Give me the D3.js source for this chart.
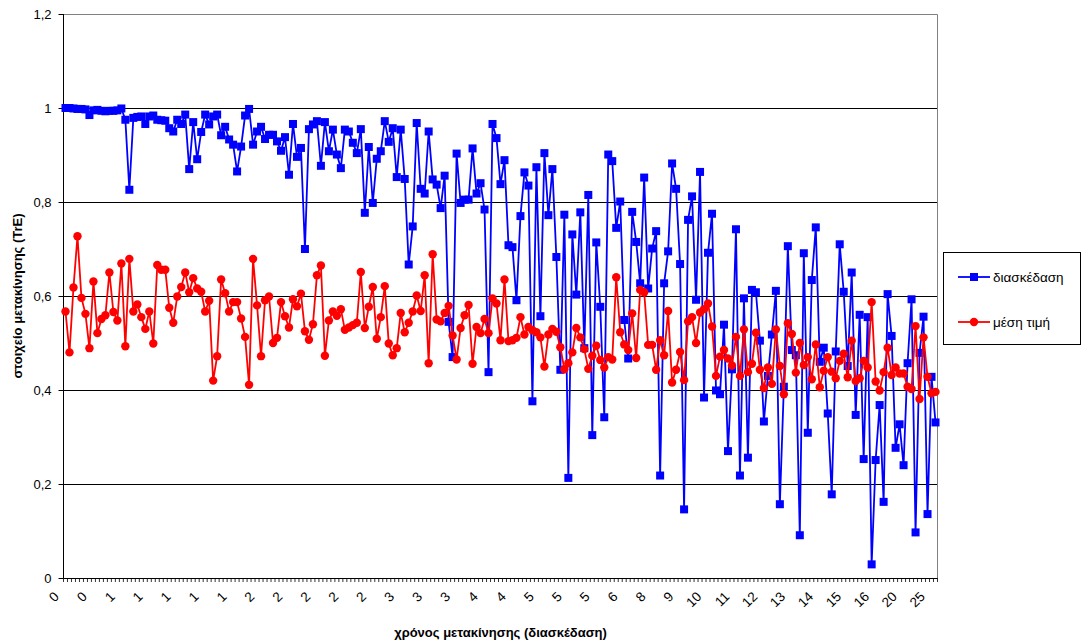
<!DOCTYPE html>
<html>
<head>
<meta charset="utf-8">
<script src="https://cdn.jsdelivr.net/npm/d3@7"></script>
<style>
  body { margin: 0; background: #ffffff; }
  svg text { font-family: "Liberation Sans", Arial, sans-serif; fill: #000; }
</style>
</head>
<body>
<svg id="chart"></svg>
<script>
// Series names as in the legend.
const seriesNames = ["διασκέδαση", "μέση τιμή"];

// Values, one per category (same order as the x axis).
const diaskedasi = [
  1.000, 1.000, 0.999, 0.998, 0.998, 0.997, 0.985, 0.995, 0.996, 0.994, 0.993, 0.994, 0.994, 0.995, 0.999,
  0.975, 0.826, 0.979, 0.981, 0.982, 0.966, 0.982, 0.984, 0.975, 0.974, 0.973, 0.957, 0.950, 0.975, 0.966,
  0.986, 0.870, 0.970, 0.891, 0.949, 0.986, 0.965, 0.982, 0.986, 0.942, 0.960, 0.933, 0.922, 0.865, 0.918,
  0.984, 0.998, 0.922, 0.950, 0.960, 0.934, 0.943, 0.943, 0.929, 0.909, 0.938, 0.858, 0.966, 0.896, 0.915, 0.700,
  0.955, 0.965, 0.972, 0.877, 0.970, 0.908, 0.954, 0.901, 0.872, 0.954, 0.950, 0.926, 0.904, 0.955, 0.777,
  0.917, 0.798, 0.892, 0.908, 0.972, 0.928, 0.957, 0.853, 0.954, 0.849, 0.667, 0.748, 0.968, 0.828, 0.818,
  0.950, 0.848, 0.837, 0.787, 0.856, 0.545, 0.470, 0.903, 0.798, 0.805, 0.805, 0.914, 0.818, 0.840, 0.784,
  0.438, 0.966, 0.936, 0.838, 0.889, 0.708, 0.704, 0.591, 0.770, 0.863, 0.835, 0.376, 0.874, 0.557, 0.904,
  0.772, 0.870, 0.683, 0.443, 0.773, 0.213, 0.731, 0.603, 0.778, 0.489, 0.815, 0.304, 0.714, 0.577, 0.342,
  0.901, 0.887, 0.745, 0.801, 0.549, 0.467, 0.779, 0.715, 0.627, 0.852, 0.616, 0.701, 0.738, 0.218, 0.627,
  0.695, 0.882, 0.828, 0.668, 0.146, 0.762, 0.812, 0.592, 0.864, 0.384, 0.692, 0.775, 0.399, 0.391, 0.539,
  0.270, 0.444, 0.742, 0.218,
  0.595, 0.256, 0.613, 0.608, 0.505, 0.333, 0.430, 0.518, 0.611, 0.157, 0.407, 0.706, 0.485, 0.474, 0.091,
  0.691, 0.309, 0.634, 0.746, 0.460, 0.490, 0.350, 0.178, 0.482, 0.710, 0.609, 0.451, 0.650, 0.347, 0.560,
  0.253, 0.555, 0.029, 0.251, 0.368, 0.162, 0.604, 0.515, 0.277, 0.327, 0.240, 0.457, 0.593, 0.097, 0.479,
  0.556, 0.136, 0.428, 0.331
];
const mesiTimi = [
  0.567, 0.480, 0.618, 0.727, 0.596, 0.562, 0.489, 0.631, 0.521, 0.551, 0.559, 0.650, 0.566, 0.548, 0.669,
  0.493, 0.679, 0.567, 0.582, 0.555, 0.530, 0.567, 0.499, 0.666, 0.656, 0.656, 0.575, 0.543, 0.599, 0.619,
  0.650, 0.608, 0.638, 0.616, 0.609, 0.567, 0.590, 0.420, 0.472, 0.635, 0.606, 0.567, 0.587, 0.587, 0.552,
  0.513, 0.411, 0.679, 0.580, 0.472, 0.591, 0.599, 0.500, 0.511, 0.587, 0.557, 0.533, 0.593, 0.578, 0.605, 0.525,
  0.507, 0.540, 0.644, 0.665, 0.473, 0.548, 0.567, 0.558, 0.572, 0.528, 0.533, 0.538, 0.543, 0.651, 0.532,
  0.577, 0.619, 0.509, 0.555, 0.621, 0.499, 0.474, 0.489, 0.564, 0.523, 0.543, 0.567, 0.601, 0.568, 0.644,
  0.457, 0.689, 0.550, 0.546, 0.564, 0.579, 0.516, 0.465, 0.532, 0.559, 0.581, 0.456, 0.534, 0.521, 0.551,
  0.521, 0.595, 0.584, 0.506, 0.635, 0.504, 0.506, 0.511, 0.555, 0.518, 0.534, 0.527, 0.523, 0.512, 0.450,
  0.518, 0.530, 0.524, 0.491, 0.444, 0.457, 0.480, 0.532, 0.512, 0.487, 0.445, 0.473, 0.494, 0.464, 0.448,
  0.470, 0.465, 0.640, 0.523, 0.497, 0.485, 0.563, 0.468, 0.613, 0.608, 0.496, 0.496, 0.443, 0.506, 0.474,
  0.568, 0.416, 0.443, 0.481, 0.421, 0.546, 0.555, 0.500, 0.565, 0.572, 0.584, 0.535, 0.430, 0.471, 0.485,
  0.467, 0.452, 0.513, 0.430,
  0.529, 0.438, 0.456, 0.522, 0.443, 0.404, 0.448, 0.413, 0.529, 0.451, 0.391, 0.542, 0.519, 0.437, 0.500,
  0.453, 0.470, 0.423, 0.497, 0.406, 0.441, 0.470, 0.439, 0.425, 0.462, 0.477, 0.427, 0.505, 0.419, 0.425,
  0.462, 0.448, 0.587, 0.418, 0.399, 0.438, 0.490, 0.432, 0.448, 0.435, 0.435, 0.407, 0.402, 0.536, 0.381,
  0.512, 0.428, 0.393, 0.396
];

// The x axis only shows a label every 7th category.
const tickLabels = [0, 0, 1, 1, 1, 1, 1, 2, 2, 2, 2, 2, 3, 3, 3, 4, 4, 5, 5, 5, 6, 8, 9, 10, 11, 12, 13, 14, 15, 16, 20, 25];
const labelEvery = 7;
const yTicks = [0, 0.2, 0.4, 0.6, 0.8, 1, 1.2];

const width = 1082, height = 643;
const plot = { left: 63.5, right: 937.5, top: 14, bottom: 578 };

const svg = d3.select("#chart")
  .attr("width", width)
  .attr("height", height)
  .attr("viewBox", [0, 0, width, height]);

const n = diaskedasi.length;
// Categories sit between the tick marks, like Excel does.
const x = d3.scaleBand()
  .domain(d3.range(n))
  .range([plot.left, plot.right])
  .padding(0);
const cx = i => x(i) + x.bandwidth() / 2;

const y = d3.scaleLinear()
  .domain([0, 1.2])
  .range([plot.bottom, plot.top]);

// Gridlines.
svg.append("g")
  .selectAll("line")
  .data(yTicks.filter(v => v > 0 && v < 1.2))
  .join("line")
  .attr("x1", plot.left)
  .attr("x2", plot.right)
  .attr("y1", d => Math.round(y(d)) + 0.5)
  .attr("y2", d => Math.round(y(d)) + 0.5)
  .attr("stroke", "#000")
  .attr("stroke-width", 1);

// Plot area border (top and right).
svg.append("path")
  .attr("d", `M${plot.left},${plot.top + 0.5}H${plot.right}V${plot.bottom}`)
  .attr("fill", "none")
  .attr("stroke", "#808080")
  .attr("stroke-width", 1);

// Y axis.
const yAxis = svg.append("g");
yAxis.append("line")
  .attr("x1", plot.left).attr("x2", plot.left)
  .attr("y1", plot.top).attr("y2", plot.bottom)
  .attr("stroke", "#000");
yAxis.selectAll(".tick")
  .data(yTicks)
  .join("line")
  .attr("x1", plot.left - 5)
  .attr("x2", plot.left)
  .attr("y1", d => Math.round(y(d)) + 0.5)
  .attr("y2", d => Math.round(y(d)) + 0.5)
  .attr("stroke", "#000");
yAxis.selectAll("text")
  .data(yTicks)
  .join("text")
  .attr("x", plot.left - 12)
  .attr("y", d => y(d))
  .attr("dy", "0.35em")
  .attr("text-anchor", "end")
  .attr("font-size", "13px")
  .text(d => String(d).replace(".", ","));

// X axis with one small tick per category boundary.
const xAxis = svg.append("g");
xAxis.append("line")
  .attr("x1", plot.left).attr("x2", plot.right)
  .attr("y1", plot.bottom + 0.5).attr("y2", plot.bottom + 0.5)
  .attr("stroke", "#000");
xAxis.selectAll(".tick")
  .data(d3.range(n + 1))
  .join("line")
  .attr("x1", i => (i < n ? x(i) : plot.right))
  .attr("x2", i => (i < n ? x(i) : plot.right))
  .attr("y1", plot.bottom)
  .attr("y2", plot.bottom + 4)
  .attr("stroke", "#000")
  .attr("stroke-width", 0.8);
xAxis.selectAll("text")
  .data(tickLabels)
  .join("text")
  .attr("transform", (d, k) => `translate(${cx(k * labelEvery) - 9},${plot.bottom + 16}) rotate(-45)`)
  .attr("dy", "0.35em")
  .attr("text-anchor", "end")
  .attr("font-size", "13.5px")
  .text(d => d);

// Axis titles.
svg.append("text")
  .attr("x", (plot.left + plot.right) / 2)
  .attr("y", 637)
  .attr("text-anchor", "middle")
  .attr("font-size", "13px")
  .attr("font-weight", "bold")
  .text("χρόνος μετακίνησης (διασκέδαση)");
svg.append("text")
  .attr("transform", `translate(22,${(plot.top + plot.bottom) / 2}) rotate(-90)`)
  .attr("text-anchor", "middle")
  .attr("font-size", "13px")
  .attr("font-weight", "bold")
  .text("στοιχείο μετακίνησης (TrE)");

// Lines and markers.
const line = d3.line()
  .x((d, i) => cx(i))
  .y(d => y(d));

svg.append("path")
  .datum(diaskedasi)
  .attr("d", line)
  .attr("fill", "none")
  .attr("stroke", "#0000ff")
  .attr("stroke-width", 1.8);
svg.append("g")
  .selectAll("rect")
  .data(diaskedasi)
  .join("rect")
  .attr("x", (d, i) => cx(i) - 4)
  .attr("y", d => y(d) - 4)
  .attr("width", 8)
  .attr("height", 8)
  .attr("fill", "#0000ff");

svg.append("path")
  .datum(mesiTimi)
  .attr("d", line)
  .attr("fill", "none")
  .attr("stroke", "#ff0000")
  .attr("stroke-width", 1.8);
svg.append("g")
  .selectAll("circle")
  .data(mesiTimi)
  .join("circle")
  .attr("cx", (d, i) => cx(i))
  .attr("cy", d => y(d))
  .attr("r", 4.2)
  .attr("fill", "#ff0000");

// Legend.
const legend = svg.append("g");
legend.append("rect")
  .attr("x", 943.5)
  .attr("y", 252.5)
  .attr("width", 137)
  .attr("height", 92)
  .attr("fill", "#fff")
  .attr("stroke", "#000");
const legendRows = [
  { name: seriesNames[0], color: "#0000ff", shape: "square", y: 277 },
  { name: seriesNames[1], color: "#ff0000", shape: "circle", y: 322 }
];
legendRows.forEach(r => {
  legend.append("line")
    .attr("x1", 958).attr("x2", 990)
    .attr("y1", r.y).attr("y2", r.y)
    .attr("stroke", r.color)
    .attr("stroke-width", 1.8);
  if (r.shape === "square") {
    legend.append("rect")
      .attr("x", 970).attr("y", r.y - 4)
      .attr("width", 8).attr("height", 8)
      .attr("fill", r.color);
  } else {
    legend.append("circle")
      .attr("cx", 974).attr("cy", r.y)
      .attr("r", 4.2)
      .attr("fill", r.color);
  }
  legend.append("text")
    .attr("x", 993)
    .attr("y", r.y)
    .attr("dy", "0.35em")
    .attr("font-size", "13.5px")
    .text(r.name);
});
</script>
</body>
</html>
